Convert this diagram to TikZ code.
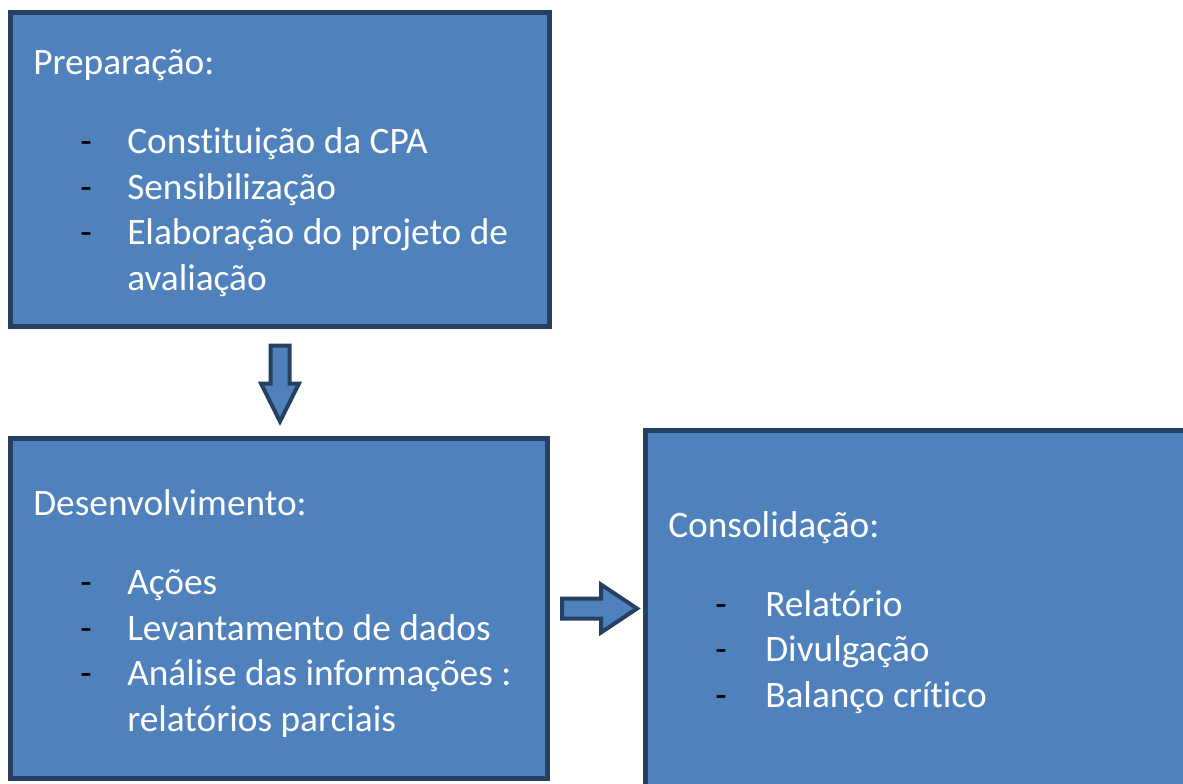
\documentclass[tikz,border=0pt]{standalone}
\usepackage{fontspec}
\setmainfont[Ligatures={NoCommon,NoRare,NoContextual},RawFeature={-liga;-clig;-calt}]{Carlito}
\usetikzlibrary{calc}
\definecolor{phasefill}{HTML}{4F81BD}
\definecolor{phaseline}{HTML}{254061}
\tikzstyle{phase} = [draw=phaseline,fill=phasefill,line width=3.75pt,inner sep=0pt,anchor=north west]
\tikzstyle{title} = [anchor=base west,inner sep=0pt,text=white]
\tikzstyle{item} = [anchor=base west,inner sep=0pt,text=white]
\tikzstyle{hyphen} = [anchor=base west,inner sep=0pt,text=black]
\tikzstyle{blockarrow} = [draw=phaseline,fill=phasefill,line width=3pt,line join=miter]

\begin{document}
\begin{tikzpicture}[x=0.75pt,y=-0.75pt]
          \fontsize{28}{34}\selectfont
          \useasboundingbox (0,0) rectangle (1183,783);
          \clip (0,0) rectangle (1183,783);

          \node[phase,minimum width=404.25pt,minimum height=235.5pt] at (8,10) (prep) {};
          \node[phase,minimum width=402.75pt,minimum height=255pt] at (8,436) (desenv) {};
          \node[phase,minimum width=420pt,minimum height=285pt] at (643,428) (consol) {};

          \node[title] at (33,74) (prept) {Preparação:};
          \node[hyphen] at (80,153) (p1d) {-};
          \node[item] at (127,153) (p1) {Constituição da CPA};
          \node[hyphen] at (80,199) (p2d) {-};
          \node[item] at (127,199) (p2) {Sensibilização};
          \node[hyphen] at (80,244) (p3d) {-};
          \node[item] at (127,244) (p3) {Elaboração do projeto de};
          \node[item] at (127,290) (p4) {avaliação};

          \node[title] at (33,515) (desenvt) {Desenvolvimento:};
          \node[hyphen] at (80,594) (d1d) {-};
          \node[item] at (127,594) (d1) {Ações};
          \node[hyphen] at (80,640) (d2d) {-};
          \node[item] at (127,640) (d2) {Levantamento de dados};
          \node[hyphen] at (80,685) (d3d) {-};
          \node[item] at (127,685) (d3) {Análise das informações :};
          \node[item] at (127,731) (d4) {relatórios parciais};

          \node[title] at (668,537) (consolt) {Consolidação:};
          \node[hyphen] at (715,616) (c1d) {-};
          \node[item] at (765,616) (c1) {Relatório};
          \node[hyphen] at (715,661) (c2d) {-};
          \node[item] at (765,661) (c2) {Divulgação};
          \node[hyphen] at (715,707) (c3d) {-};
          \node[item] at (765,707) (c3) {Balanço crítico};

          \coordinate (down) at ($(prep.south)+(0,16.5)$);
          \draw[blockarrow] (down) ++(-9.5,0) -- ++(19,0) -- ++(0,38) -- ++(9.5,0)
               -- ++(-19,38) -- ++(-19,-38) -- ++(9.5,0) -- cycle;

          \coordinate (right) at ($(desenv.east)+(12,0)$);
          \draw[blockarrow] (right) ++(0,-10) -- ++(39,0) -- ++(0,-14) -- ++(36,24)
               -- ++(-36,24) -- ++(0,-14) -- ++(-39,0) -- cycle;
\end{tikzpicture}
\end{document}
